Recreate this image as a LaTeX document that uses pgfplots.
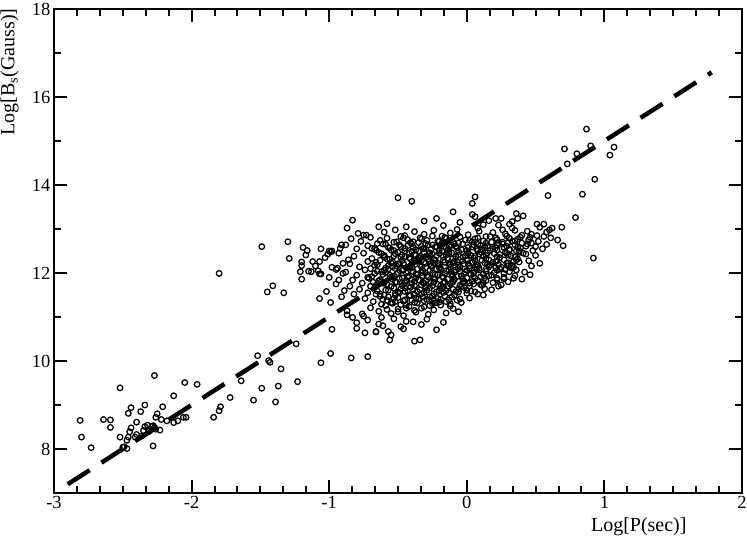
\documentclass[border=0pt]{standalone}
\usepackage{pgfplots}
\pgfplotsset{compat=1.18}
\usepackage{fontspec}
\setmainfont{Liberation Serif}

\begin{document}
\begin{tikzpicture}
\begin{axis}[
	name=ax, at={(0,0)}, anchor=south west,
	scale only axis,
	width=688pt, height=484pt,
	xmin=-3, xmax=2, ymin=7, ymax=18,
	xtick={-3,-2,...,2}, ytick={8,10,...,18},
	minor x tick num=5, minor y tick num=1,
	xtick pos=both, ytick pos=both,
	tick align=inside,
	major tick length=13pt, minor tick length=7pt,
	every tick/.style={black, line width=2pt},
	axis line style={line width=2.2pt},
	/pgf/number format/assume math mode=true,
	ticklabel style={font=\fontsize{18.5}{20}\selectfont},
	label style={font=\fontsize{20}{23}\selectfont},
	xlabel={Log[P(sec)]},
	ylabel={Log[B\textsubscript{s}(Gauss)]},
	xlabel style={at={(axis description cs:0.85,0)}, anchor=north, yshift=-24pt, inner sep=0pt},
	ylabel style={at={(axis description cs:0,0.87)}, anchor=south, yshift=35pt, inner sep=0pt},
	]
	% pulsars
	\addplot[only marks, mark=o, mark size=2.8pt, mark options={line width=1.25pt, black}] coordinates {
		(-2.81,8.65) (-2.80,8.27) (-2.73,8.03) (-2.64,8.67) (-2.59,8.66) (-2.59,8.49) (-2.52,9.39) (-2.52,8.27)
		(-2.50,8.04) (-2.47,8.01) (-2.47,8.20) (-2.46,8.27) (-2.46,8.81) (-2.44,8.94) (-2.45,8.39) (-2.44,8.48)
		(-2.41,8.27) (-2.40,8.61) (-2.40,8.33) (-2.37,8.85) (-2.35,8.42) (-2.34,8.51) (-2.34,9.00) (-2.32,8.54)
		(-2.29,8.51) (-2.28,8.53) (-2.27,8.49) (-2.26,8.72) (-2.25,8.80) (-2.27,9.67) (-2.28,8.07) (-2.23,8.43)
		(-2.21,8.96) (-2.22,8.67) (-2.18,8.64) (-2.13,8.60) (-2.13,9.21) (-2.10,8.64) (-2.06,8.72) (-2.04,8.72)
		(-2.05,9.51) (-1.96,9.47) (-1.84,8.72) (-1.80,8.87) (-1.79,8.96) (-1.72,9.17) (-1.64,9.55) (-1.55,9.11)
		(-1.52,10.12) (-1.49,9.38) (-1.44,10.01) (-1.43,9.97) (-1.39,9.07) (-1.37,9.43) (-1.35,9.82) (-1.23,9.53)
		(-1.24,10.39) (-2.31,8.40) (-2.26,8.45) (-2.36,8.30) (-2.49,8.05)
		(-1.80,11.99) (-1.49,12.60) (-1.45,11.57) (-1.41,11.71) (-1.33,11.55) (-1.30,12.71) (-1.29,12.33) (-1.20,11.86)
		(-1.21,12.03) (-1.20,12.17) (-1.20,12.25) (-1.19,12.58) (-1.17,12.41) (-1.16,12.51) (-1.15,12.04) (-1.13,12.03)
		(-1.12,12.26) (-1.10,12.16) (-1.08,12.05) (-1.07,11.98) (-1.06,11.98) (-1.07,12.26) (-1.06,12.55) (-1.03,12.35)
		(-1.01,12.43) (-1.00,12.50) (-0.99,12.48) (-0.98,12.50) (-1.02,11.58) (-1.07,11.42) (-0.99,11.33) (-1.00,11.90)
		(-0.98,12.13) (-0.95,12.08) (-0.94,12.11) (-0.90,11.99) (-0.89,11.60) (-0.91,11.46) (-0.93,11.84) (-0.91,12.64)
		(-0.88,12.64) (-0.87,13.02) (-0.83,13.20) (-0.87,11.14) (-0.87,11.05) (-0.98,10.72) (-1.06,9.96) (-0.99,10.17)
		(-0.84,10.07) (-0.83,10.99) (-0.80,10.87) (-0.80,10.74) (-0.76,11.07) (-0.75,11.02) (-0.74,10.64) (-0.72,10.10)
		(-0.66,10.66) (-0.75,12.86) (-0.73,12.86) (-0.64,13.05) (-0.65,12.67) (-0.69,12.56) (-0.67,12.56)
		(-0.50,13.71) (-0.40,13.63) (-0.10,13.39) (-0.22,13.24) (0.06,13.73) (0.04,13.58) (0.04,13.33) (0.06,13.28)
		(0.59,13.76) (0.36,13.35) (0.41,13.30) (0.37,13.24) (0.33,13.17) (0.31,13.11) (0.21,13.24) (0.25,13.24)
		(0.23,13.09) (0.51,13.11) (0.56,13.11) (0.53,13.04) (0.62,13.02) (0.69,13.04) (0.60,12.98) (0.58,12.93)
		(0.56,12.83) (0.66,12.75) (0.70,12.62) (0.47,12.88) (0.46,12.81) (0.45,12.75) (0.43,12.61) (0.48,12.51)
		(0.43,12.43) (0.47,12.16) (0.40,11.86) (0.36,12.07) (0.34,12.13) (0.27,11.87) (0.27,11.90) (0.25,11.73)
		(-0.66,10.67) (-0.57,10.67) (-0.56,10.48) (-0.55,10.59) (-0.46,10.73) (-0.38,10.45) (-0.34,10.48) (-0.39,10.89)
		(-0.61,10.80) (-0.62,10.99) (-0.06,11.12) (-0.12,11.25) (-0.04,11.33)
		(0.87,15.27) (0.71,14.82) (0.80,14.71) (0.90,14.89) (1.07,14.86) (1.04,14.68) (0.73,14.48) (0.93,14.13)
		(0.84,13.79) (0.79,13.26) (0.92,12.34)
		(-0.60,12.93) (-0.52,12.98) (-0.45,12.85) (-0.38,12.94) (-0.31,12.88) (-0.24,12.97) (-0.18,12.84) (-0.12,12.91)
		(-0.07,12.99) (0.01,12.87) (0.09,12.95) (0.14,12.83) (0.19,12.92) (0.28,12.89) (0.35,12.97) (0.40,12.86)
		(-0.58,13.12) (-0.44,13.05) (-0.31,13.18) (-0.17,13.08) (-0.05,13.15) (0.08,13.02) (0.16,13.19) (0.12,13.10)
		(-0.84,12.78) (-0.77,12.72) (-0.70,12.81) (-0.63,12.74) (-0.58,12.79) (-0.53,12.70) (-0.48,12.83) (-0.43,12.76)
		(-0.39,12.71) (-0.34,12.80) (-0.29,12.74) (-0.25,12.84) (-0.20,12.72) (-0.15,12.79) (-0.10,12.70) (-0.05,12.82)
		(-0.01,12.75) (0.04,12.71) (0.08,12.80) (0.12,12.73) (0.17,12.83) (0.22,12.76) (0.26,12.70) (0.31,12.79)
		(0.35,12.73) (0.39,12.81) (0.52,12.72) (0.61,12.80)
		(-0.80,12.55) (-0.72,12.62) (-0.66,12.52) (-0.61,12.66) (-0.57,12.58) (-0.53,12.51) (-0.49,12.64) (-0.45,12.56)
		(-0.41,12.69) (-0.37,12.53) (-0.33,12.61) (-0.30,12.67) (-0.26,12.54) (-0.22,12.60) (-0.18,12.68) (-0.14,12.52)
		(-0.11,12.63) (-0.07,12.57) (-0.03,12.66) (0.00,12.51) (0.04,12.59) (0.08,12.65) (0.11,12.54) (0.15,12.62)
		(0.19,12.55) (0.23,12.68) (0.27,12.58) (0.31,12.52) (0.35,12.64) (0.39,12.57) (0.44,12.66) (0.50,12.60)
		(-0.82,12.38) (-0.75,12.45) (-0.69,12.33) (-0.64,12.47) (-0.60,12.40) (-0.56,12.31) (-0.52,12.44) (-0.48,12.36)
		(-0.45,12.49) (-0.41,12.32) (-0.38,12.42) (-0.34,12.35) (-0.31,12.47) (-0.27,12.39) (-0.24,12.31) (-0.20,12.45)
		(-0.17,12.37) (-0.13,12.48) (-0.10,12.33) (-0.06,12.41) (-0.03,12.36) (0.01,12.46) (0.05,12.34) (0.09,12.43)
		(0.12,12.38) (0.16,12.30) (0.20,12.44) (0.24,12.35) (0.28,12.47) (0.32,12.39) (0.37,12.32) (0.41,12.45)
		(-0.85,12.21) (-0.78,12.14) (-0.72,12.26) (-0.67,12.18) (-0.63,12.29) (-0.59,12.11) (-0.55,12.23) (-0.51,12.16)
		(-0.47,12.28) (-0.44,12.12) (-0.40,12.20) (-0.37,12.27) (-0.33,12.14) (-0.30,12.22) (-0.26,12.17) (-0.23,12.29)
		(-0.19,12.10) (-0.16,12.24) (-0.12,12.19) (-0.09,12.27) (-0.05,12.13) (-0.02,12.21) (0.02,12.16) (0.06,12.28)
		(0.09,12.11) (0.13,12.23) (0.17,12.18) (0.21,12.26) (0.25,12.13) (0.29,12.22) (0.33,12.17) (0.38,12.25)
		(-0.88,12.02) (-0.80,11.95) (-0.74,12.07) (-0.69,11.92) (-0.65,12.04) (-0.61,11.97) (-0.57,12.09) (-0.53,11.93)
		(-0.50,12.01) (-0.46,12.08) (-0.43,11.91) (-0.39,12.03) (-0.36,11.96) (-0.32,12.06) (-0.29,11.94) (-0.25,12.00)
		(-0.22,12.09) (-0.18,11.92) (-0.15,12.05) (-0.11,11.98) (-0.08,12.07) (-0.04,11.93) (-0.01,12.02) (0.03,11.97)
		(0.07,12.08) (0.10,11.91) (0.14,12.04) (0.18,11.95) (0.22,12.06) (0.27,11.99) (0.31,12.03) (0.35,11.94)
		(-0.83,11.84) (-0.76,11.77) (-0.71,11.88) (-0.66,11.72) (-0.62,11.81) (-0.58,11.74) (-0.54,11.86) (-0.51,11.79)
		(-0.47,11.71) (-0.44,11.83) (-0.40,11.76) (-0.37,11.89) (-0.33,11.73) (-0.30,11.82) (-0.26,11.78) (-0.23,11.87)
		(-0.19,11.71) (-0.16,11.80) (-0.12,11.75) (-0.09,11.85) (-0.05,11.72) (-0.02,11.81) (0.02,11.77) (0.06,11.88)
		(0.10,11.74) (0.14,11.83) (0.19,11.78) (0.23,11.70)
		(-0.78,11.63) (-0.72,11.55) (-0.67,11.67) (-0.63,11.52) (-0.59,11.61) (-0.55,11.69) (-0.52,11.54) (-0.48,11.64)
		(-0.45,11.58) (-0.41,11.68) (-0.38,11.51) (-0.34,11.62) (-0.31,11.56) (-0.27,11.66) (-0.24,11.53) (-0.20,11.60)
		(-0.17,11.69) (-0.13,11.55) (-0.10,11.63) (-0.06,11.57) (-0.02,11.67) (0.03,11.59) (0.08,11.52) (0.13,11.64)
		(-0.74,11.42) (-0.68,11.35) (-0.63,11.47) (-0.58,11.38) (-0.54,11.31) (-0.50,11.44) (-0.46,11.36) (-0.42,11.48)
		(-0.38,11.33) (-0.35,11.41) (-0.31,11.37) (-0.27,11.46) (-0.23,11.32) (-0.19,11.40) (-0.15,11.35) (-0.11,11.45)
		(-0.07,11.38) (0.02,11.43)
		(-0.70,11.21) (-0.64,11.13) (-0.59,11.26) (-0.55,11.08) (-0.50,11.18) (-0.46,11.03) (-0.42,11.24) (-0.37,11.11)
		(-0.33,11.20) (-0.28,11.06) (-0.24,11.16) (-0.19,11.27) (-0.15,11.09) (-0.10,11.19)
		(-0.72,10.93) (-0.64,10.84) (-0.53,10.96) (-0.48,10.78) (-0.44,10.90) (-0.33,10.83) (-0.29,10.95) (-0.22,10.71)
		(-0.17,10.88)
		(-0.93,12.45) (-0.86,12.30) (-0.90,12.22) (-0.95,11.75) (-0.85,11.70) (-0.82,11.52) (-0.92,12.56) (-0.79,12.90)
		(0.45,12.28) (0.50,12.40) (0.53,12.22) (0.42,12.02) (0.46,11.96) (0.30,11.80) (0.34,11.88) (0.55,12.55)
		(0.38,12.50) (0.47,12.68) (0.58,12.65) (0.51,12.85) (0.44,12.95) (0.33,13.02) (0.26,12.98) (0.18,11.62)
		(0.22,11.85) (0.12,11.50)
		(-0.59,12.65) (-0.51,12.71) (-0.43,12.62) (-0.35,12.69) (-0.28,12.64) (-0.21,12.73) (-0.13,12.61) (-0.06,12.68)
		(0.02,12.74) (0.10,12.63) (0.18,12.70) (0.26,12.66) (0.33,12.72)
		(-0.62,12.44) (-0.55,12.52) (-0.47,12.41) (-0.40,12.49) (-0.32,12.55) (-0.25,12.43) (-0.18,12.50) (-0.11,12.46)
		(-0.04,12.53) (0.03,12.40) (0.10,12.48) (0.17,12.51) (0.24,12.42) (0.31,12.54) (0.38,12.47)
		(-0.66,12.24) (-0.58,12.32) (-0.50,12.21) (-0.42,12.35) (-0.35,12.27) (-0.28,12.31) (-0.21,12.22) (-0.14,12.34)
		(-0.07,12.25) (0.00,12.29) (0.07,12.20) (0.14,12.33) (0.22,12.28) (0.30,12.23) (0.36,12.30)
		(-0.70,12.10) (-0.62,12.03) (-0.54,12.14) (-0.47,12.06) (-0.40,12.12) (-0.33,12.01) (-0.26,12.15) (-0.19,12.08)
		(-0.12,12.13) (-0.05,12.04) (0.02,12.11) (0.09,12.07) (0.16,12.14) (0.24,12.09) (0.32,12.12)
		(-0.72,11.90) (-0.64,11.82) (-0.56,11.95) (-0.49,11.87) (-0.42,11.93) (-0.35,11.84) (-0.28,11.91) (-0.21,11.96)
		(-0.14,11.86) (-0.07,11.92) (0.00,11.89) (0.08,11.83) (0.16,11.94) (0.22,11.88)
		(-0.70,11.70) (-0.61,11.77) (-0.53,11.66) (-0.46,11.74) (-0.39,11.63) (-0.32,11.79) (-0.25,11.71) (-0.18,11.65)
		(-0.11,11.78) (-0.04,11.69) (0.05,11.75) (0.11,11.72)
		(-0.66,11.52) (-0.57,11.46) (-0.49,11.55) (-0.41,11.49) (-0.33,11.53) (-0.25,11.47) (-0.17,11.56) (-0.09,11.50)
		(0.00,11.54)
		(-0.62,11.29) (-0.52,11.35) (-0.44,11.27) (-0.36,11.32) (-0.27,11.26) (-0.20,11.34) (-0.12,11.30)
		(-0.46,12.80) (-0.33,12.77) (-0.16,12.81) (0.06,12.78) (0.21,12.80) (0.29,12.84) (0.37,12.77)
		(-0.56,12.57) (-0.48,12.60) (-0.39,12.58) (-0.31,12.55) (-0.23,12.59) (-0.15,12.57) (-0.08,12.61) (0.01,12.58)
		(0.07,12.55) (0.13,12.60) (0.21,12.57) (0.29,12.61) (0.37,12.59)
		(-0.60,12.36) (-0.53,12.39) (-0.45,12.37) (-0.37,12.40) (-0.29,12.36) (-0.22,12.39) (-0.15,12.41) (-0.08,12.37)
		(-0.01,12.39) (0.06,12.38) (0.14,12.40) (0.22,12.37) (0.30,12.41) (0.35,12.36)
		(-0.65,12.19) (-0.57,12.17) (-0.49,12.20) (-0.41,12.16) (-0.34,12.19) (-0.27,12.21) (-0.20,12.17) (-0.13,12.20)
		(-0.06,12.18) (0.01,12.21) (0.08,12.17) (0.15,12.20) (0.23,12.19) (0.30,12.16)
		(-0.67,11.99) (-0.59,12.01) (-0.51,11.97) (-0.44,12.00) (-0.37,11.98) (-0.30,12.01) (-0.23,11.97) (-0.16,11.99)
		(-0.09,12.02) (-0.02,11.98) (0.05,12.00) (0.12,11.97) (0.20,12.01)
		(-0.68,11.79) (-0.60,11.77) (-0.52,11.80) (-0.45,11.78) (-0.38,11.81) (-0.31,11.76) (-0.24,11.79) (-0.17,11.77)
		(-0.10,11.80) (-0.03,11.78) (0.04,11.81) (0.12,11.77)
		(-0.65,11.59) (-0.57,11.61) (-0.50,11.57) (-0.43,11.60) (-0.36,11.58) (-0.29,11.61) (-0.22,11.57) (-0.15,11.60)
		(-0.08,11.58) (0.00,11.61) (0.06,11.57)
		(-0.61,11.40) (-0.53,11.42) (-0.45,11.39) (-0.37,11.43) (-0.29,11.40) (-0.21,11.42) (-0.13,11.39) (-0.05,11.41)
		(-0.50,11.12) (-0.44,11.20) (-0.38,11.15) (-0.31,11.23) (-0.25,11.30) (-0.58,11.17)
		(-0.55,11.33) (-0.48,11.28) (-0.40,11.38) (-0.32,11.45) (-0.24,11.38) (-0.16,11.48) (-0.60,11.50)
		(-0.52,11.49) (-0.45,11.66) (-0.38,11.71) (-0.30,11.68) (-0.21,11.74) (-0.14,11.70) (-0.06,11.64) (0.02,11.70)
		(-0.63,11.85) (-0.55,11.91) (-0.47,11.89) (-0.40,11.85) (-0.32,11.94) (-0.24,11.86) (-0.17,11.90) (-0.10,11.94)
		(-0.03,11.86) (0.05,11.93) (0.13,11.89)
		(-0.60,12.06) (-0.52,12.10) (-0.43,12.04) (-0.36,12.09) (-0.27,12.05) (-0.20,12.12) (-0.13,12.06) (-0.06,12.10)
		(0.00,12.06) (0.07,12.13) (0.14,12.09) (0.21,12.12) (0.28,12.08)
		(-0.54,12.26) (-0.46,12.22) (-0.38,12.29) (-0.31,12.25) (-0.24,12.23) (-0.17,12.29) (-0.10,12.23) (-0.03,12.28)
		(0.04,12.24) (0.11,12.29) (0.19,12.24) (0.27,12.30) (0.34,12.26)
		(-0.50,12.47) (-0.42,12.45) (-0.35,12.50) (-0.27,12.46) (-0.20,12.52) (-0.13,12.44) (-0.06,12.49) (0.01,12.44)
		(0.08,12.51) (0.15,12.46) (0.22,12.52) (0.29,12.45) (0.36,12.50)
		(-0.40,12.66) (-0.25,12.64) (-0.09,12.66) (0.05,12.64) (0.14,12.68) (0.22,12.63) (0.30,12.69) (0.40,12.68)
	};
	% fit
	\addplot[black, line width=4.5pt, dash pattern=on 26pt off 14pt] coordinates {(-2.9,7.2) (1.78,16.56)};
\end{axis}
\pgfresetboundingbox
\path (-54pt,-43pt) rectangle (693pt,493pt);
\end{tikzpicture}
\end{document}
